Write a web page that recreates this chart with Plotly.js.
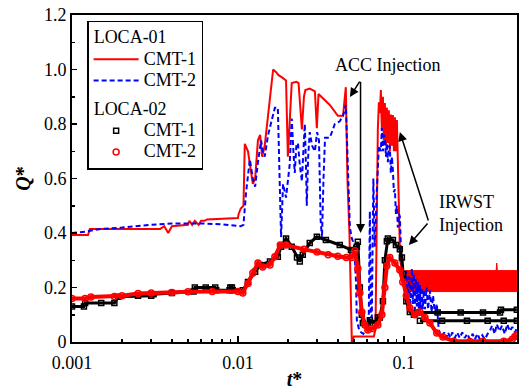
<!DOCTYPE html>
<html>
<head>
<meta charset="utf-8">
<script src="https://cdn.plot.ly/plotly-3.0.1.min.js"></script>
<style>html,body{margin:0;padding:0;background:#fff;}#chart{width:520px;height:390px;}</style>
</head>
<body>
<div id="chart"></div>
<script>
// ---------- DATA ----------
// LOCA-01, CMT-1 (red solid)
const loca01Cmt1T = [0.001,0.00125,0.00128,0.0034,0.0036,0.0038,0.0040,0.0050,0.0051,0.0053,0.0055,0.0058,0.0060,0.0063,0.0065,0.0100,0.0101,0.0104,0.0108,0.0110,0.0115,0.0119,0.0123,0.0127,0.0132,0.0136,0.0140,0.0145,0.0152,0.0158,0.0163,0.0170,0.0175,0.0185,0.0195,0.0200,0.0205,0.0211,0.0225,0.0232,0.0243,0.0250,0.0255,0.0271,0.0291,0.0299,0.0306,0.0325,0.0358,0.0400,0.0430,0.0447,0.0457,0.0470,0.0480,0.0486,0.0500,0.0600,0.0660,0.0675,0.0685,0.0697,0.0707,0.0717,0.0727,0.0737,0.0748,0.0758,0.0769,0.0780,0.0790,0.0801,0.0812,0.0824,0.0835,0.0847,0.0859,0.0871,0.0883,0.0896,0.0908,0.0920,0.0935,0.0950,0.0990,0.1014];
const loca01Cmt1Q = [0.393,0.393,0.415,0.415,0.425,0.40,0.425,0.43,0.445,0.43,0.445,0.43,0.445,0.445,0.45,0.455,0.47,0.49,0.50,0.727,0.70,0.64,0.58,0.60,0.74,0.76,0.68,0.72,0.84,0.92,1.0,0.99,0.98,0.97,0.96,0.68,0.80,0.95,0.955,0.95,0.78,0.90,0.925,0.93,0.92,0.785,0.91,0.895,0.87,0.83,0.83,0.935,0.60,0.40,0.05,0.0,0.02,0.02,0.02,0.05,0.45,0.78,0.88,0.84,0.925,0.78,0.90,0.74,0.877,0.72,0.86,0.73,0.85,0.70,0.835,0.72,0.833,0.70,0.825,0.70,0.815,0.66,0.45,0.30,0.24,0.24];
// LOCA-01, CMT-1 late oscillation band (envelope)
const loca01BandT  = [0.1014,0.355,0.360,0.363,0.366,0.48];
const loca01BandHi = [0.262,0.262,0.262,0.29,0.262,0.262];
const loca01BandLo = [0.185,0.185,0.185,0.185,0.185,0.185];

// LOCA-01, CMT-2 (blue dashed)
const loca01Cmt2T = [0.001,0.0012,0.0015,0.002,0.003,0.004,0.006,0.008,0.0104,0.0108,0.0112,0.0118,0.0123,0.0127,0.0132,0.0138,0.0141,0.0145,0.0152,0.0160,0.0167,0.0174,0.0178,0.0182,0.0187,0.0195,0.0205,0.0211,0.0216,0.0220,0.0225,0.0230,0.0236,0.0243,0.0248,0.0253,0.0257,0.0260,0.0265,0.0271,0.0280,0.0291,0.0300,0.0308,0.0315,0.0321,0.0328,0.0335,0.0358,0.0384,0.0411,0.0430,0.0447,0.0460,0.0473,0.0486,0.0500,0.0507,0.0515,0.0521,0.0540,0.0570,0.0600,0.0615,0.0624,0.0632,0.0641,0.0655,0.0668,0.0687,0.0707,0.0727,0.0737,0.0748,0.0758,0.0769,0.0780,0.0790,0.0801,0.0812,0.0824,0.0835,0.0847,0.0859,0.0871,0.0883,0.0896,0.0908,0.0920,0.0935,0.0946,0.0960,0.0973,0.1000,0.1014,0.1035,0.1057,0.1075,0.1095,0.1117,0.1135,0.1150,0.1165,0.1180,0.1198,0.1215,0.1230,0.1248,0.1265,0.1280,0.130,0.132,0.134,0.137,0.140,0.1435,0.147,0.150,0.154,0.158,0.162,0.165,0.170,0.175,0.180,0.185,0.190,0.196,0.203,0.210,0.217,0.225,0.233,0.241,0.250,0.260,0.268,0.278,0.287,0.297,0.308,0.320,0.330,0.340,0.353,0.363,0.378,0.390,0.406,0.420,0.435,0.450,0.467,0.480];
const loca01Cmt2Q = [0.40,0.405,0.415,0.42,0.43,0.435,0.435,0.432,0.425,0.43,0.55,0.67,0.60,0.57,0.66,0.74,0.70,0.68,0.76,0.82,0.86,0.86,0.60,0.385,0.58,0.53,0.65,0.82,0.70,0.62,0.72,0.73,0.65,0.59,0.70,0.80,0.65,0.50,0.68,0.77,0.72,0.70,0.77,0.74,0.45,0.38,0.60,0.75,0.75,0.80,0.81,0.83,0.87,0.65,0.42,0.38,0.36,0.30,0.22,0.08,0.04,0.03,0.05,0.10,0.48,0.10,0.09,0.60,0.35,0.55,0.72,0.70,0.785,0.70,0.76,0.75,0.68,0.73,0.66,0.72,0.716,0.62,0.68,0.63,0.55,0.56,0.47,0.50,0.42,0.47,0.46,0.35,0.28,0.24,0.20,0.26,0.15,0.24,0.13,0.27,0.14,0.25,0.12,0.23,0.13,0.22,0.12,0.21,0.12,0.20,0.12,0.19,0.12,0.20,0.12,0.19,0.11,0.17,0.10,0.14,0.05,0.03,0.02,0.035,0.015,0.035,0.015,0.035,0.015,0.035,0.015,0.035,0.015,0.03,0.01,0.03,0.01,0.03,0.01,0.025,0.01,0.03,0.04,0.06,0.03,0.065,0.04,0.06,0.03,0.065,0.04,0.055,0.035,0.05];

// LOCA-02, CMT-1 (black squares)
const loca02Cmt1T = [0.001,0.00118,0.0012,0.0015,0.0018,0.0019,0.0025,0.003,0.0031,0.004,0.0054,0.0055,0.0064,0.0073,0.0074,0.0089,0.0090,0.0092,0.0093,0.0107,0.0115,0.0127,0.0136,0.0156,0.0174,0.0182,0.0195,0.0211,0.0227,0.0236,0.0246,0.0271,0.0299,0.0339,0.0411,0.0480,0.0521,0.0528,0.0543,0.0558,0.0566,0.0607,0.0624,0.0668,0.0697,0.0717,0.0748,0.0769,0.0790,0.0801,0.0859,0.0896,0.0946,0.0973,0.0990,0.1035,0.1087,0.1150,0.1200,0.16,0.22,0.30,0.38,0.385,0.48,null,0.1250,0.17,0.24,0.32,0.40,0.48];
const loca02Cmt1Q = [0.13,0.13,0.143,0.143,0.143,0.166,0.17,0.17,0.175,0.18,0.185,0.20,0.20,0.20,0.19,0.19,0.20,0.20,0.19,0.19,0.22,0.258,0.283,0.295,0.313,0.35,0.38,0.35,0.31,0.295,0.32,0.363,0.386,0.374,0.356,0.338,0.35,0.368,0.20,0.10,0.07,0.06,0.08,0.07,0.09,0.09,0.15,0.30,0.37,0.38,0.374,0.356,0.34,0.31,0.25,0.15,0.11,0.10,0.108,0.108,0.108,0.108,0.108,0.118,0.118,null,0.078,0.078,0.078,0.078,0.078,0.078];

// LOCA-02, CMT-2 (red circles)
const loca02Cmt2T = [0.001,0.0012,0.0013,0.0018,0.002,0.0025,0.003,0.004,0.005,0.007,0.010,0.0107,0.0115,0.0123,0.0132,0.0141,0.0156,0.0167,0.0180,0.0195,0.025,0.030,0.035,0.040,0.045,0.0486,0.0507,0.0528,0.0543,0.0558,0.0582,0.0607,0.0650,0.0697,0.0737,0.0769,0.0790,0.0824,0.0883,0.0946,0.0985,0.1035,0.1087,0.1165,0.1248,0.134,0.1435,0.158,0.172,0.20,0.25,0.30,0.40,0.45,0.467,0.48];
const loca02Cmt2Q = [0.16,0.16,0.165,0.167,0.17,0.178,0.18,0.182,0.184,0.185,0.185,0.18,0.215,0.253,0.29,0.275,0.283,0.313,0.356,0.356,0.34,0.33,0.32,0.315,0.31,0.31,0.335,0.27,0.18,0.11,0.062,0.044,0.05,0.062,0.10,0.20,0.28,0.31,0.29,0.264,0.22,0.17,0.125,0.10,0.11,0.09,0.07,0.033,0.018,0.003,0.002,0.003,0.003,0.01,0.02,0.025];

// Axis ticks
const xTickVals = [0.001,0.01,0.1];
const xTickText = ['0.001','0.01','0.1'];
const xMinorVals = [0.002,0.003,0.004,0.005,0.006,0.007,0.008,0.009,0.02,0.03,0.04,0.05,0.06,0.07,0.08,0.09,0.2,0.3,0.4];
const yTickVals = [0,0.2,0.4,0.6,0.8,1.0,1.2];
const yTickText = ['0','0.2','0.4','0.6','0.8','1.0','1.2'];
const yMinorVals = [0.1,0.3,0.5,0.7,0.9,1.1];

// ---------- CHART ----------
const FONT = 'Times New Roman, Liberation Serif, DejaVu Serif, serif';
const RED = '#ff0000', BLUE = '#0000ff', BLACK = '#000000';
const big = s => '<span style="font-size:18px">' + s + '</span>';

const bandX = loca01BandT.concat(loca01BandT.slice().reverse());
const bandY = loca01BandHi.concat(loca01BandLo.slice().reverse());

const traces = [
  {x: loca01Cmt1T, y: loca01Cmt1Q, mode:'lines', name:big('CMT-1'), legendgroup:'L01',
   legendgrouptitle:{text:big('LOCA-01'), font:{family:FONT, size:14, color:BLACK}}, line:{color:RED, width:2}},
  {x: bandX, y: bandY, mode:'lines', fill:'toself', fillcolor:RED, showlegend:false,
   legendgroup:'L01', line:{color:RED, width:1}, hoverinfo:'skip'},
  {x: loca01Cmt2T, y: loca01Cmt2Q, mode:'lines', name:big('CMT-2'), legendgroup:'L01',
   line:{color:BLUE, width:2, dash:'5px,3px'}},
  {x: loca02Cmt1T, y: loca02Cmt1Q, mode:'lines', showlegend:false, legendgroup:'L02',
   line:{color:BLACK, width:3}, connectgaps:false},
  {x: loca02Cmt1T, y: loca02Cmt1Q, mode:'markers', name:big('CMT-1'), legendgroup:'L02',
   legendgrouptitle:{text:big('LOCA-02'), font:{family:FONT, size:14, color:BLACK}},
   marker:{symbol:'square-open', size:5, color:BLACK, line:{width:1.5, color:BLACK}}},
  {x: loca02Cmt2T, y: loca02Cmt2Q, mode:'lines', showlegend:false, legendgroup:'L02',
   line:{color:RED, width:4}},
  {x: loca02Cmt2T, y: loca02Cmt2Q, mode:'markers', name:big('CMT-2'), legendgroup:'L02',
   marker:{symbol:'circle-open', size:6, color:RED, line:{width:1.5, color:RED}}}
];

function lg(v){ return Math.log10(v); }

const layout = {
  width:520, height:390,
  margin:{l:72, r:3, t:15, b:48, pad:0},
  paper_bgcolor:'#fff', plot_bgcolor:'#fff',
  font:{family:FONT, size:18, color:BLACK},
  showlegend:true,
  legend:{x:0.034, y:0.982, xanchor:'left', yanchor:'top', bgcolor:'#fff',
    bordercolor:BLACK, borderwidth:1.5, font:{family:FONT, size:14, color:BLACK},
    traceorder:'grouped', tracegroupgap:8, itemwidth:45},
  xaxis:{type:'log', range:[-3, -0.318], tickvals:xTickVals, ticktext:xTickText,
    ticks:'inside', ticklen:6, tickwidth:1.5, tickcolor:BLACK, ticklabelstandoff:3,
    showline:true, linewidth:2, linecolor:BLACK, mirror:true, showgrid:false, zeroline:false,
    tickfont:{family:FONT, size:18, color:BLACK},
    minor:{tickvals:xMinorVals, ticks:'inside', ticklen:3, tickwidth:1.5, tickcolor:BLACK, showgrid:false},
    title:{text:'<b><i>t</i>*</b>', font:{family:FONT, size:20, color:BLACK}, standoff:3}},
  yaxis:{range:[0,1.2], tickvals:yTickVals, ticktext:yTickText,
    ticks:'inside', ticklen:5, tickwidth:1.5, tickcolor:BLACK,
    showline:true, linewidth:2, linecolor:BLACK, mirror:true, showgrid:false, zeroline:false,
    tickfont:{family:FONT, size:18, color:BLACK},
    minor:{tickvals:yMinorVals, ticks:'inside', ticklen:3, tickwidth:1.5, tickcolor:BLACK, showgrid:false},
    title:{text:'<b><i>Q</i>*</b>', font:{family:FONT, size:20, color:BLACK}, standoff:8}},
  annotations:[
    {xref:'x', yref:'y', x:lg(0.0801), y:1.017, text:'ACC Injection', showarrow:false,
     font:{family:FONT, size:18, color:BLACK}, xanchor:'center', yanchor:'middle'},
    {xref:'x', yref:'y', x:-1.261, y:0.40, axref:'x', ayref:'y', ax:-1.261, ay:0.961,
     text:'', showarrow:true, arrowhead:2, arrowsize:1.2, arrowwidth:1.5, arrowcolor:BLACK, standoff:0},
    {xref:'x', yref:'y', x:-1.325, y:0.899, axref:'x', ayref:'y', ax:-1.261, ay:0.961,
     text:'', showarrow:true, arrowhead:2, arrowsize:1.2, arrowwidth:1.5, arrowcolor:BLACK, standoff:0},
    {xref:'x', yref:'y', x:-0.803, y:0.47, text:'IRWST<br>Injection', showarrow:false, align:'left',
     font:{family:FONT, size:18, color:BLACK}, xanchor:'left', yanchor:'middle'},
    {xref:'x', yref:'y', x:-1.0241, y:0.7706, axref:'x', ayref:'y', ax:-0.8494, ay:0.4404,
     text:'', showarrow:true, arrowhead:2, arrowsize:1.2, arrowwidth:1.5, arrowcolor:BLACK, standoff:0},
    {xref:'x', yref:'y', x:-0.9699, y:0.356, axref:'x', ayref:'y', ax:-0.8494, ay:0.4404,
     text:'', showarrow:true, arrowhead:2, arrowsize:1.2, arrowwidth:1.5, arrowcolor:BLACK, standoff:0}
  ]
};

Plotly.newPlot('chart', traces, layout, {displayModeBar:false, staticPlot:true});
</script>
</body>
</html>
